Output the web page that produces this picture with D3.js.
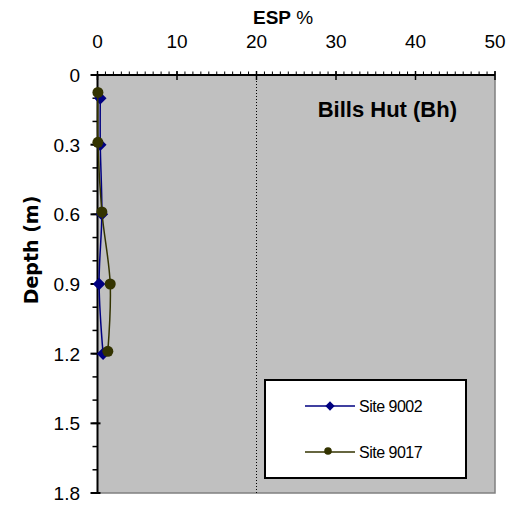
<!DOCTYPE html>
<html>
<head>
<meta charset="UTF-8">
<script src="https://cdn.jsdelivr.net/npm/d3@7"></script>
<style>
body { margin: 0; background: #fff; font-family: "Liberation Sans", Arial, sans-serif; }
</style>
</head>
<body>
<div id="chart"></div>
<script>
// data
var depths9002 = [0.1, 0.3, 0.6, 0.9, 1.2];
var esp9002 = [0.35, 0.35, 0.55, 0.2, 0.7];
var depths9017 = [0.075, 0.29, 0.59, 0.9, 1.19];
var esp9017 = [0.05, 0.05, 0.55, 1.6, 1.3];
var xTicks = [0, 10, 20, 30, 40, 50];
var yTicks = [0, 0.3, 0.6, 0.9, 1.2, 1.5, 1.8];
var seriesNames = ["Site 9002", "Site 9017"];

var w = 512, h = 511;
var pLeft = 97.5, pRight = 495, pTop = 75, pBottom = 493;

var svg = d3.select("#chart").append("svg")
  .attr("width", w).attr("height", h);

var x = d3.scaleLinear().domain([0, 50]).range([pLeft, pRight]);
var y = d3.scaleLinear().domain([0, 1.8]).range([pTop, pBottom]);

// plot background
svg.append("rect")
  .attr("x", pLeft).attr("y", pTop)
  .attr("width", pRight - pLeft).attr("height", pBottom - pTop)
  .style("fill", "#c0c0c0");

// right / bottom border in grey
svg.append("path")
  .attr("d", "M" + pRight + "," + pTop + "V" + pBottom + "H" + pLeft)
  .style("fill", "none").style("stroke", "#808080").style("stroke-width", 1.5);

// dotted line at 20
svg.append("line")
  .attr("x1", x(20)).attr("x2", x(20))
  .attr("y1", pTop).attr("y2", pBottom)
  .style("stroke", "#000").style("stroke-width", 1)
  .style("stroke-dasharray", "1,2");

// top axis: minor ticks
svg.append("g").selectAll("line")
  .data(d3.range(0, 51, 1))
  .enter().append("line")
  .attr("x1", d => x(d)).attr("x2", d => x(d))
  .attr("y1", pTop - 3.5).attr("y2", pTop)
  .style("stroke", "#000").style("stroke-width", 1);

// top axis: major ticks
svg.append("g").selectAll("line")
  .data(xTicks)
  .enter().append("line")
  .attr("x1", d => x(d)).attr("x2", d => x(d))
  .attr("y1", pTop - 4).attr("y2", pTop + 5)
  .style("stroke", "#000").style("stroke-width", 1.5);

svg.append("line")
  .attr("x1", pLeft - 6).attr("x2", pRight)
  .attr("y1", pTop).attr("y2", pTop)
  .style("stroke", "#000").style("stroke-width", 2);

svg.append("g").selectAll("text")
  .data(xTicks)
  .enter().append("text")
  .attr("x", d => x(d)).attr("y", 48)
  .attr("text-anchor", "middle")
  .style("font-size", "19px")
  .text(d => d);

// left axis: minor ticks
svg.append("g").selectAll("line")
  .data(d3.range(0, 19).map(d => d / 10))
  .enter().append("line")
  .attr("x1", pLeft - 5).attr("x2", pLeft)
  .attr("y1", d => y(d)).attr("y2", d => y(d))
  .style("stroke", "#000").style("stroke-width", 1.5);

// left axis: major ticks
svg.append("g").selectAll("line")
  .data(yTicks)
  .enter().append("line")
  .attr("x1", pLeft - 7).attr("x2", pLeft + 3)
  .attr("y1", d => y(d)).attr("y2", d => y(d))
  .style("stroke", "#000").style("stroke-width", 2);

svg.append("line")
  .attr("x1", pLeft).attr("x2", pLeft)
  .attr("y1", pTop).attr("y2", pBottom)
  .style("stroke", "#000").style("stroke-width", 2);

svg.append("g").selectAll("text")
  .data(yTicks)
  .enter().append("text")
  .attr("x", 80).attr("y", d => y(d) + 7)
  .attr("text-anchor", "end")
  .style("font-size", "19px")
  .text(d => d);

// axis titles
var xt = svg.append("text")
  .attr("x", 253).attr("y", 24)
  .style("font-size", "19px");
xt.append("tspan").style("font-weight", "bold").text("ESP");
xt.append("tspan").text(" %");

svg.append("text")
  .attr("transform", "translate(38,250) rotate(-90)")
  .attr("text-anchor", "middle")
  .style("font-family", "'DejaVu Sans', sans-serif")
  .style("font-size", "19px").style("font-weight", "bold")
  .text("Depth (m)");

svg.append("text")
  .attr("x", 457).attr("y", 117)
  .attr("text-anchor", "end")
  .style("font-size", "22px").style("font-weight", "bold")
  .text("Bills Hut (Bh)");

// series
var line = d3.line()
  .x(d => x(d[1])).y(d => y(d[0]))
  .curve(d3.curveCatmullRom.alpha(0.5));

var s1 = depths9002.map((d, i) => [d, esp9002[i]]);
var s2 = depths9017.map((d, i) => [d, esp9017[i]]);

svg.append("path").datum(s1)
  .attr("d", line)
  .style("fill", "none").style("stroke", "#000080").style("stroke-width", 1.5);

svg.append("g").selectAll("path")
  .data(s1)
  .enter().append("path")
  .attr("d", d3.symbol().type(d3.symbolDiamond2).size(100))
  .attr("transform", d => "translate(" + x(d[1]) + "," + y(d[0]) + ")")
  .style("fill", "#000080");

svg.append("path").datum(s2)
  .attr("d", line)
  .style("fill", "none").style("stroke", "#333300").style("stroke-width", 1.5);

svg.append("g").selectAll("circle")
  .data(s2)
  .enter().append("circle")
  .attr("cx", d => x(d[1])).attr("cy", d => y(d[0]))
  .attr("r", 5.5)
  .style("fill", "#333300");

// legend
var lg = svg.append("g");
lg.append("rect")
  .attr("x", 265).attr("y", 380)
  .attr("width", 201).attr("height", 98)
  .style("fill", "#fff").style("stroke", "#000").style("stroke-width", 2);

var legendColors = ["#000080", "#333300"];
seriesNames.forEach(function(name, i) {
  var ly = 406 + i * 46;
  lg.append("line")
    .attr("x1", 305).attr("x2", 355)
    .attr("y1", ly).attr("y2", ly)
    .style("stroke", legendColors[i]).style("stroke-width", 1.5);
  if (i == 0) {
    lg.append("path")
      .attr("d", d3.symbol().type(d3.symbolDiamond2).size(55))
      .attr("transform", "translate(330," + ly + ")")
      .style("fill", legendColors[i]);
  } else {
    lg.append("circle")
      .attr("cx", 328).attr("cy", ly - 1).attr("r", 3.8)
      .style("fill", legendColors[i]);
  }
  lg.append("text")
    .attr("x", 359).attr("y", ly + 6)
    .style("font-size", "16px")
    .style("letter-spacing", "-0.5px")
    .text(name);
});
</script>
</body>
</html>
